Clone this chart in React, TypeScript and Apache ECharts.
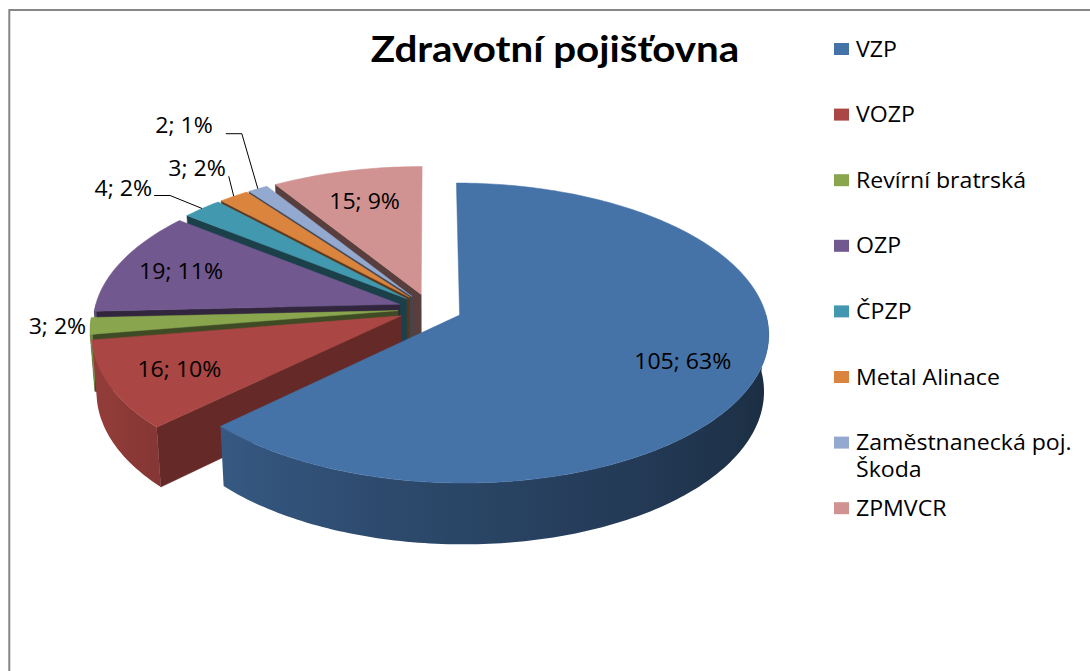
import React, { useEffect, useRef } from "react";
import * as echarts from "echarts";

const chartTitle = "Zdravotní pojišťovna";
const categories = [
  "VZP",
  "VOZP",
  "Revírní bratrská",
  "OZP",
  "ČPZP",
  "Metal Alinace",
  "Zaměstnanecká poj.\nŠkoda",
  "ZPMVCR",
];
const values = [105, 16, 3, 19, 4, 3, 2, 15];
const colors = ["#4572A7", "#AA4643", "#89A54E", "#71588F", "#4198AF", "#DB843D", "#93A9CF", "#D19392"];

const FONT = "'Open Sans', Lato, sans-serif";
const TITLE_FONT = "Lato, 'Open Sans', sans-serif";
const TEXT_SIZE = 21;
const TEXT_STRETCH = 1.1;

// 3D pie geometry (layout only)
const CX = 430;
const CY = 309;
const RADIUS = 305;
const EXPLODE = 32;
const THICK = 65;
const SIN_T = 0.48;
const COS_T = Math.sqrt(1 - SIN_T * SIN_T);
const CAM = 2248;

// label placement (layout only)
const LABEL_LAYOUT: any[] = [
  { inside: 0.76 },
  { inside: 0.77 },
  { elbow: [0, 0], run: 0, gap: 4, line: false, dy: 0 },
  { inside: 0.78 },
  { elbow: [-32, -13], run: 16, gap: 2, line: true, dy: -8 },
  { elbow: [-5, -20], run: 0, gap: 3, line: true, dy: -9 },
  { elbow: [-16, -55], run: 16, gap: 13, line: true, dy: -9 },
  { inside: 0.74 },
];

const rad = (d: number) => (d * Math.PI) / 180;

function proj(X: number, D: number, H: number): number[] {
  const z = D * COS_T + H * SIN_T;
  const s = CAM / (CAM - z);
  return [CX + X * s, CY + (D * SIN_T - H * COS_T) * s];
}

function shade(hex: string, f: number): string {
  const n = parseInt(hex.slice(1), 16);
  const r = Math.round(((n >> 16) & 255) * f);
  const g = Math.round(((n >> 8) & 255) * f);
  const b = Math.round((n & 255) * f);
  return `rgb(${r},${g},${b})`;
}

function wallLight(theta: number): number {
  const t = Math.min(1, Math.max(0, (theta - 95) / 150));
  return 0.38 + 0.48 * Math.pow(t, 1.3);
}

function cutLight(normalDeg: number): number {
  const nd = ((normalDeg % 360) + 360) % 360;
  const t = Math.min(1, Math.max(0, (180 - nd) / 45));
  return 0.42 + 0.18 * t;
}

export default function App() {
  const ref = useRef<HTMLDivElement>(null);

  useEffect(() => {
    if (!ref.current) return;
    const chart = echarts.init(ref.current, undefined, { renderer: "svg" });

    const total = values.reduce((a, b) => a + b, 0);
    const starts: number[] = [];
    let acc = 0;
    values.forEach((v) => {
      starts.push(acc);
      acc += v;
    });

    const renderItem = (params: any, api: any) => {
      const i = params.dataIndex;
      const v = api.value(0);
      const a0 = (starts[i] / total) * 360;
      const a1 = a0 + (v / total) * 360;
      const m = (a0 + a1) / 2;
      const ox = EXPLODE * Math.sin(rad(m));
      const od = -EXPLODE * Math.cos(rad(m));
      const rim = (th: number, H: number, r: number = RADIUS) =>
        proj(ox + r * Math.sin(rad(th)), od - r * Math.cos(rad(th)), H);
      const apex = (H: number) => proj(ox, od, H);
      const arc = (from: number, to: number, H: number) => {
        const pts: number[][] = [];
        const n = Math.max(2, Math.ceil(Math.abs(to - from)));
        for (let k = 0; k <= n; k++) pts.push(rim(from + ((to - from) * k) / n, H));
        return pts;
      };
      const color = colors[i];
      const base = (categories.length - i) * 10;
      const children: any[] = [];

      if (Math.sin(rad(a0)) < -0.02) {
        const c = shade(color, cutLight(a0 - 90));
        children.push({
          type: "polygon",
          z2: base,
          shape: { points: [apex(0), rim(a0, 0), rim(a0, -THICK), apex(-THICK)] },
          style: { fill: c, stroke: c, lineWidth: 0.5 },
        });
      }
      if (Math.sin(rad(a1)) > 0.02) {
        const c = shade(color, cutLight(a1 + 90));
        children.push({
          type: "polygon",
          z2: base,
          shape: { points: [apex(0), rim(a1, 0), rim(a1, -THICK), apex(-THICK)] },
          style: { fill: c, stroke: c, lineWidth: 0.5 },
        });
      }

      const lo = Math.max(a0, 90);
      const hi = Math.min(a1, 270);
      if (hi > lo) {
        const pts = arc(lo, hi, 0).concat(arc(hi, lo, -THICK));
        const xs = pts.map((p) => p[0]);
        const minX = Math.min(...xs);
        const maxX = Math.max(...xs);
        const span = maxX - minX || 1;
        const stops: any[] = [];
        const steps = 12;
        for (let k = 0; k <= steps; k++) {
          const th = lo + ((hi - lo) * k) / steps;
          const p = rim(th, 0);
          stops.push({
            offset: Math.min(1, Math.max(0, (p[0] - minX) / span)),
            color: shade(color, wallLight(th)),
          });
        }
        stops.sort((a, b) => a.offset - b.offset);
        children.push({
          type: "polygon",
          z2: base + 1,
          shape: { points: pts },
          style: { fill: new echarts.graphic.LinearGradient(0, 0, 1, 0, stops) },
        });
      }

      const topPts = [apex(0)].concat(arc(a0, a1, 0));
      children.push({
        type: "polygon",
        z2: base + 2,
        shape: { points: topPts },
        style: { fill: color, stroke: color, lineWidth: 0.5 },
      });

      const lay = LABEL_LAYOUT[i];
      const pct = Math.round((v / total) * 100);
      const text = `${v}; ${pct}%`;
      const font = `${TEXT_SIZE}px ${FONT}`;
      if (lay.inside != null) {
        const p = rim(m, 0, RADIUS * lay.inside);
        children.push({
          type: "text",
          z2: 1000,
          x: p[0],
          y: p[1],
          scaleX: TEXT_STRETCH,
          style: { text, fill: "#000", font, align: "center", verticalAlign: "middle" },
        });
      } else {
        const p0 = rim(m, 0);
        const p1 = [p0[0] + lay.elbow[0], p0[1] + lay.elbow[1]];
        const p2 = [p1[0] - lay.run, p1[1]];
        if (lay.line) {
          children.push({
            type: "polyline",
            z2: 999,
            shape: { points: [p0, p1, p2] },
            style: { stroke: "#000", lineWidth: 1, fill: null },
          });
        }
        children.push({
          type: "text",
          z2: 1000,
          x: p2[0] - lay.gap,
          y: p2[1] + lay.dy,
          scaleX: TEXT_STRETCH,
          style: { text, fill: "#000", font, align: "right", verticalAlign: "middle" },
        });
      }
      return { type: "group", children };
    };

    const legendEls: any[] = [];
    categories.forEach((name, i) => {
      const yc = 49 + 65.6 * i;
      legendEls.push({
        type: "rect",
        shape: { x: 834, y: yc - 6, width: 15, height: 12 },
        style: { fill: colors[i] },
      });
      legendEls.push({
        type: "text",
        x: 856,
        y: yc - 14.5,
        scaleX: TEXT_STRETCH,
        style: {
          text: name,
          fill: "#000",
          font: `${TEXT_SIZE}px ${FONT}`,
          lineHeight: 27,
          align: "left",
          verticalAlign: "top",
        },
      });
    });

    chart.setOption({
      animation: false,
      backgroundColor: "#ffffff",
      graphic: [
        {
          type: "rect",
          shape: { x: 9.3, y: 10, width: 1200, height: 800 },
          style: { fill: "none", stroke: "#868686", lineWidth: 2 },
          z: -1,
        },
        {
          type: "text",
          x: 555,
          y: 29,
          scaleX: 1.09,
          style: {
            text: chartTitle,
            fill: "#000",
            font: `bold 37px ${TITLE_FONT}`,
            align: "center",
            verticalAlign: "top",
          },
        },
        ...legendEls,
      ],
      series: [
        {
          type: "custom",
          coordinateSystem: "none",
          silent: true,
          renderItem,
          data: values.map((v, i) => ({ name: categories[i], value: [v] })),
        },
      ],
    });

    return () => chart.dispose();
  }, []);

  return <div ref={ref} style={{ position: "absolute", left: 0, top: 0, width: 1090, height: 671 }} />;
}
